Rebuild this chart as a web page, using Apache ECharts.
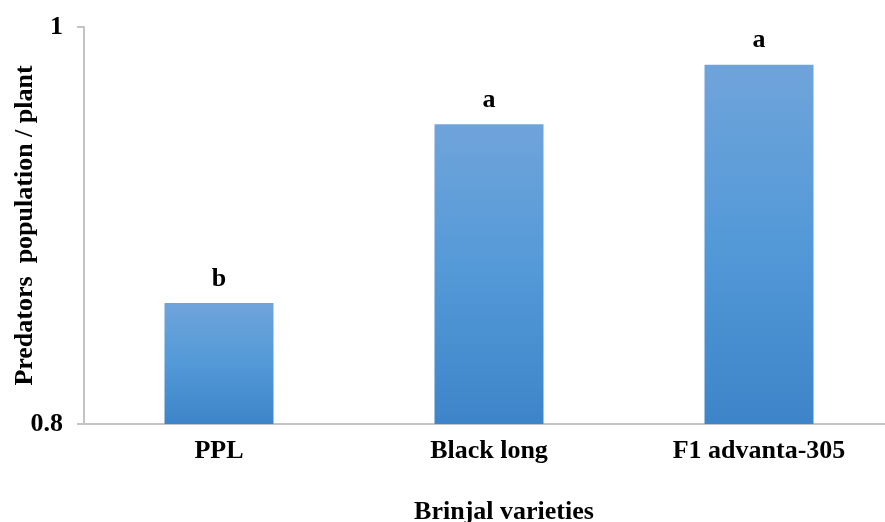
<!DOCTYPE html>
<html><head><meta charset="utf-8">
<script src="https://cdn.jsdelivr.net/npm/echarts@6/dist/echarts.min.js"></script>
<style>html,body{margin:0;padding:0;background:#fff}#c{width:885px;height:522px}</style>
</head><body><div id="c"></div>
<script>
const categories = ['PPL', 'Black long', 'F1 advanta-305'];
const values = [0.861, 0.951, 0.981];
const letters = ['b', 'a', 'a'];
const yTicks = [0.8, 1];

const font = '"Liberation Serif", "Times New Roman", serif';
const chart = echarts.init(document.getElementById('c'), null, {renderer: 'canvas'});
chart.setOption({
  animation: false,
  grid: {left: 84, top: 27, width: 810, bottom: 98, outerBoundsMode: 'none', containLabel: false},
  xAxis: {
    type: 'category', data: categories,
    name: 'Brinjal varieties', nameLocation: 'middle', nameGap: 75, nameMoveOverlap: false,
    nameTextStyle: {fontFamily: font, fontWeight: 'bold', fontSize: 26, color: '#000', padding: [0, 0, 0, 30]},
    axisLine: {lineStyle: {color: '#c4c4c4', width: 2}},
    axisTick: {show: false},
    axisLabel: {fontFamily: font, fontWeight: 'bold', fontSize: 26, color: '#000', margin: 14}
  },
  yAxis: {
    type: 'value', min: 0.8, max: 1, interval: 0.2,
    name: 'Predators  population / plant', nameLocation: 'middle', nameGap: 46, nameMoveOverlap: false,
    nameTextStyle: {fontFamily: font, fontWeight: 'bold', fontSize: 26, color: '#000'},
    axisLine: {show: true, lineStyle: {color: '#c4c4c4', width: 2}},
    axisTick: {show: true, length: 7, lineStyle: {color: '#c4c4c4', width: 2}},
    splitLine: {show: false},
    axisLabel: {fontFamily: font, fontWeight: 'bold', fontSize: 26, color: '#000', margin: 21,
      formatter: v => yTicks.includes(+v.toFixed(2)) ? String(+v.toFixed(2)) : ''}
  },
  series: [{
    type: 'bar', barWidth: 109,
    data: values,
    itemStyle: {color: new echarts.graphic.LinearGradient(0, 0, 0, 1, [
      {offset: 0, color: '#6fa4da'}, {offset: 0.5, color: '#5399d8'}, {offset: 1, color: '#3d85c8'}])},
    label: {show: true, position: 'top', distance: 11,
      formatter: p => letters[p.dataIndex],
      fontFamily: font, fontWeight: 'bold', fontSize: 26, color: '#000'}
  }]
});
</script></body></html>
